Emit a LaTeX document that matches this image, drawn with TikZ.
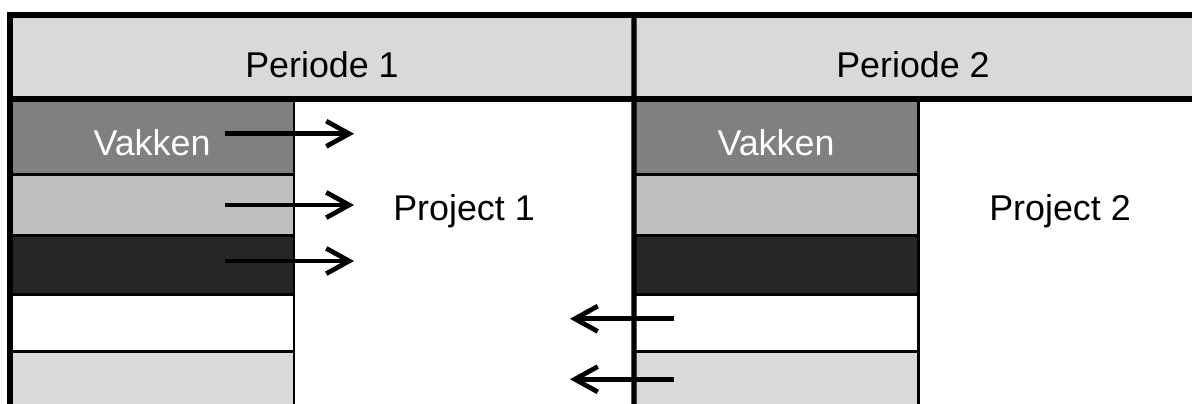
\documentclass[tikz,border=0pt]{standalone}
\usepackage{fontspec}
\setmainfont{Liberation Sans}
\usetikzlibrary{arrows.meta, positioning}

\begin{document}
\begin{tikzpicture}[
  font=\fontsize{10.2}{12}\selectfont,
  >={Straight Barb[length=6.5pt, width=7.2pt]},
  node distance=0cm,
  head/.style={fill=black!15, inner sep=0pt, outer sep=0pt, minimum height=0.84cm, text height=0.40cm, text depth=0pt},
  cell/.style={draw, line width=0.85pt, inner sep=0pt, outer sep=0pt, minimum width=2.84cm},
  vak/.style={cell, fill=black!50, text=white, minimum height=0.755cm, text height=0.37cm, text depth=0pt},
  mid/.style={cell, fill=black!25, minimum height=0.61cm},
  dark/.style={cell, fill=black!85, minimum height=0.59cm},
  blank/.style={cell, fill=white, minimum height=0.565cm},
  pale/.style={cell, fill=black!15, minimum height=0.565cm},
  rule/.style={line width=1.45pt},
  arrow/.style={->, line width=1.35pt}
]
\path[use as bounding box, clip] (0,0) rectangle (11.92,-4.03);

% header
\node[head, minimum width=6.24cm, anchor=north west] (per1) at (0.10,-0.15) {Periode 1};
\node[head, minimum width=5.58cm, right=of per1] (per2) {Periode 2};

% period 1
\node[vak, anchor=north west] (l1) at (0.10,-0.99) {Vakken};
\node[mid, below=of l1] (l2) {};
\node[dark, below=of l2] (l3) {};
\node[blank, below=of l3] (l4) {};
\node[pale, below=of l4] (l5) {};
\node[anchor=base] (proj1) at (4.64,-2.20) {Project 1};

% period 2
\node[vak, anchor=north west] (r1) at (6.34,-0.99) {Vakken};
\node[mid, below=of r1] (r2) {};
\node[dark, below=of r2] (r3) {};
\node[blank, below=of r3] (r4) {};
\node[pale, below=of r4] (r5) {};
\node[anchor=base] (proj2) at (10.60,-2.20) {Project 2};

\draw[rule] (l5.south west) -- (per1.north west) -- (per2.north east);
\draw[rule] (per1.south west) -- (per2.south east);
\draw[rule] (per2.north west) -- (r5.south west);

\draw[arrow] ([xshift=-0.69cm, yshift=0.03cm]l1.east) -- ([xshift=0.60cm, yshift=0.03cm]l1.east);
\draw[arrow] ([xshift=-0.69cm]l2.east) -- ([xshift=0.60cm]l2.east);
\draw[arrow] ([xshift=-0.69cm, yshift=0.04cm]l3.east) -- ([xshift=0.60cm, yshift=0.04cm]l3.east);
\draw[arrow] ([xshift=0.40cm, yshift=0.04cm]r4.west) -- ([xshift=-0.64cm, yshift=0.04cm]r4.west);
\draw[arrow] ([xshift=0.40cm]r5.west) -- ([xshift=-0.64cm]r5.west);
\end{tikzpicture}
\end{document}
